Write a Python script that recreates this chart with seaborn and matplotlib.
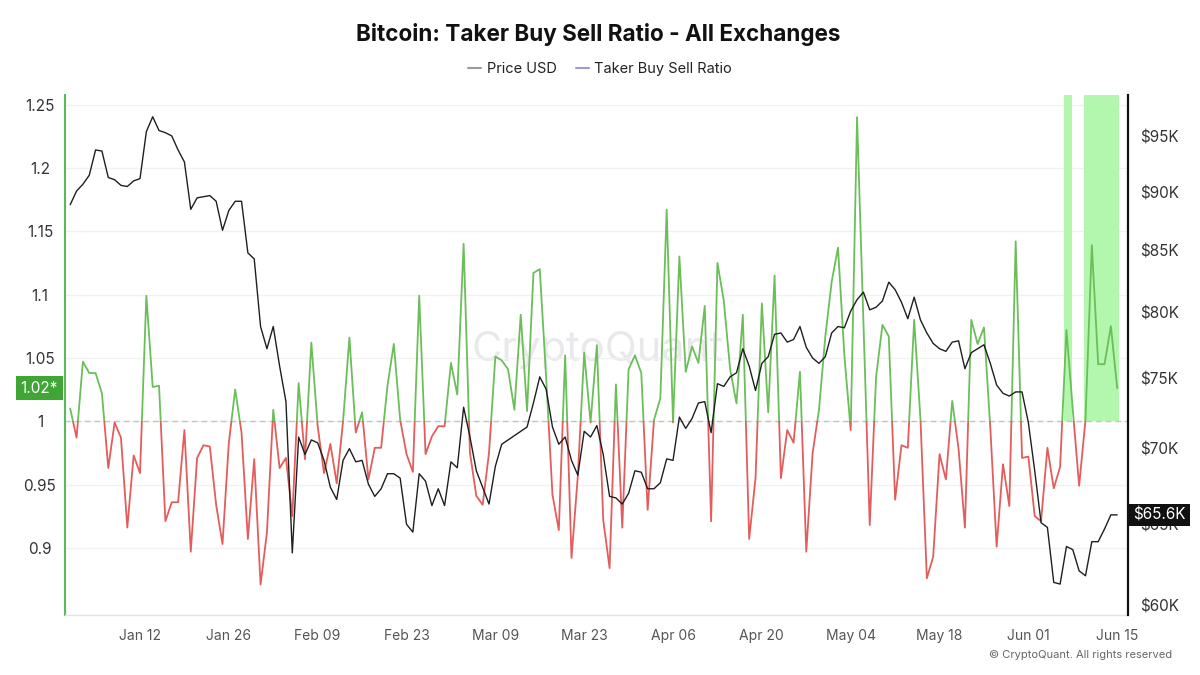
import matplotlib
matplotlib.use('Agg')
import matplotlib.pyplot as plt
import matplotlib.dates as mdates
import matplotlib.transforms as mtransforms
from matplotlib.patches import Rectangle
from matplotlib.lines import Line2D
from matplotlib.ticker import FixedLocator, FuncFormatter, NullLocator
import seaborn as sns
import pandas as pd

# ---------------- data ----------------
start_date = '2026-01-01'

price_k = [
    88.9, 90.1, 90.7, 91.5, 93.8, 93.7, 91.3, 91.1, 90.6, 90.5, 91.0, 91.2,
    95.5, 96.9, 95.6, 95.4, 95.1, 93.8, 92.7, 88.5, 89.5, 89.6, 89.7, 89.2,
    86.7, 88.4, 89.2, 89.2, 84.8, 84.3, 78.9, 77.2, 78.9, 75.9, 73.3, 63.2,
    70.8, 69.6, 70.6, 70.4, 69.2, 67.4, 66.6, 69.2, 70.0, 69.1, 69.2, 67.6,
    66.8, 67.3, 68.3, 68.3, 68.0, 65.0, 64.5, 68.3, 67.8, 66.2, 67.3, 66.2,
    69.1, 68.7, 72.9, 70.8, 68.5, 67.4, 66.3, 68.8, 70.3, 70.6, 70.9, 71.2,
    71.5, 73.2, 75.1, 74.2, 71.5, 70.3, 70.8, 69.2, 68.2, 71.2, 70.8, 71.6,
    69.6, 66.8, 66.7, 66.3, 67.0, 68.5, 68.4, 67.3, 67.3, 67.7, 69.3,
    69.2, 72.2, 71.4, 72.1, 73.2, 73.3, 71.1, 74.6, 74.4, 75.1, 75.4, 77.2,
    75.9, 74.1, 76.1, 76.6, 78.3, 78.4, 77.7, 77.9, 78.9, 77.3, 76.5, 76.1,
    76.6, 78.4, 78.9, 78.8, 80.1, 81.0, 81.6, 80.2, 80.4, 80.9, 82.4, 81.8,
    80.8, 79.5, 81.2, 79.4, 78.4, 77.6, 77.2, 77.0, 77.7, 77.8, 75.7,
    76.9, 77.2, 77.5, 76.1, 74.5, 73.9, 73.7, 74.0, 74.0, 71.8, 68.5, 65.1,
    64.8, 61.4, 61.3, 63.6, 63.4, 62.1, 61.8, 63.9, 63.9, 64.7, 65.6, 65.6,
]

ratio = [
    1.010, 0.987, 1.047, 1.038, 1.038, 1.022, 0.963, 0.999, 0.987, 0.916, 0.973, 0.959,
    1.099, 1.027, 1.028, 0.921, 0.936, 0.936, 0.993, 0.897, 0.971, 0.981, 0.980, 0.934,
    0.903, 0.983, 1.025, 0.991, 0.907, 0.970, 0.871, 0.912, 1.009, 0.963, 0.971, 0.925,
    1.030, 0.970, 1.062, 0.996, 0.959, 0.982, 0.951, 1.000, 1.066, 0.991, 1.007, 0.954,
    0.979, 0.979, 1.028, 1.061, 1.001, 0.974, 0.960, 1.099, 0.974, 0.988, 0.996, 0.996,
    1.046, 1.021, 1.140, 0.975, 0.941, 0.934, 0.975, 1.051, 1.048, 1.041, 1.009, 1.084,
    1.008, 1.117, 1.120, 1.035, 0.942, 0.914, 1.052, 0.892, 0.957, 1.054, 0.999, 1.060,
    0.922, 0.884, 1.029, 0.916, 1.041, 1.052, 1.038, 0.930, 1.001, 1.018, 1.167,
    0.999, 1.130, 1.039, 1.059, 1.046, 1.091, 0.921, 1.125, 1.095, 1.041, 1.014, 1.084,
    0.907, 0.955, 1.093, 1.007, 1.115, 0.955, 0.993, 0.983, 1.039, 0.897, 0.975, 1.009,
    1.067, 1.110, 1.137, 1.052, 0.993, 1.240, 1.080, 0.918, 1.035, 1.076, 1.067, 0.938,
    0.981, 0.979, 1.080, 1.001, 0.876, 0.893, 0.974, 0.954, 1.016, 0.978, 0.916,
    1.080, 1.061, 1.074, 0.995, 0.901, 0.966, 0.933, 1.142, 0.971, 0.972, 0.925, 0.921,
    0.979, 0.947, 0.964, 1.072, 1.009, 0.949, 1.001, 1.139, 1.045, 1.045, 1.075, 1.026,
]

highlight_spans = [('2026-06-06 14:00', '2026-06-07 22:00'),
                   ('2026-06-09 19:00', '2026-06-15 05:00')]

left_ticks = [0.9, 0.95, 1.0, 1.05, 1.1, 1.15, 1.2, 1.25]
left_labels = ['0.9', '0.95', '1', '1.05', '1.1', '1.15', '1.2', '1.25']
right_ticks = [60, 65, 70, 75, 80, 85, 90, 95]
xtick_start, xtick_end = '2026-01-12', '2026-06-15'
last_price_label = '$65.6K'
last_ratio_label = '1.02*'
title = 'Bitcoin: Taker Buy Sell Ratio - All Exchanges'
legend_labels = ['Price USD', 'Taker Buy Sell Ratio']

# ---------------- frame ----------------
dates = pd.date_range(start_date, periods=len(price_k), freq='D')
df = pd.DataFrame({'date': dates, 'price': price_k, 'ratio': ratio})

sns.set_theme(style='white')
plt.rcParams['font.family'] = ['Inter', 'DejaVu Sans']

fig = plt.figure(figsize=(12, 6.75), dpi=100)
ax = fig.add_axes([65 / 1200, 60 / 675, 1063 / 1200, 520 / 675])

GREEN = '#6abf59'
RED = '#e35d5d'

# ratio line, coloured above / below 1 by clipping
sns.lineplot(data=df, x='date', y='ratio', ax=ax, color=GREEN, lw=1.3, zorder=3)
line_g = ax.lines[-1]
sns.lineplot(data=df, x='date', y='ratio', ax=ax, color=RED, lw=1.3, zorder=3)
line_r = ax.lines[-1]

x0 = mdates.date2num(dates[0] - pd.Timedelta(days=0.82))
x1 = mdates.date2num(dates[0] + pd.Timedelta(days=166.7))
ax.set_xlim(x0, x1)
ylo, yhi = 0.847, 1.2575
ax.set_ylim(ylo, yhi)

clip_up = Rectangle((x0 - 10, 1.0), (x1 - x0) + 20, 5, transform=ax.transData)
clip_dn = Rectangle((x0 - 10, -4.0), (x1 - x0) + 20, 5, transform=ax.transData)
line_g.set_clip_path(clip_up)
line_r.set_clip_path(clip_dn)

# highlighted periods
frac = (1.0 - ylo) / (yhi - ylo)
for s, e in highlight_spans:
    ax.axvspan(mdates.date2num(pd.Timestamp(s)), mdates.date2num(pd.Timestamp(e)),
               ymin=frac, ymax=1, color='#b3f7ae', lw=0, zorder=1)

ax.axhline(1.0, color='#c4c4c4', ls=(0, (4, 3)), lw=1, zorder=2)

# grid + ticks left
ax.set_yticks(left_ticks)
ax.set_yticklabels(left_labels)
ax.grid(axis='y', color='#f1f1f1', lw=1)
ax.grid(axis='x', visible=False)
ax.tick_params(axis='y', length=0, pad=18, labelsize=11, labelcolor='#333333')
for lab in ax.get_yticklabels():
    lab.set_horizontalalignment('center')

ax.set_xticks(mdates.date2num(pd.date_range(xtick_start, xtick_end, freq='14D')))
ax.xaxis.set_major_formatter(mdates.DateFormatter('%b %d'))
ax.tick_params(axis='x', length=5, width=0.8, color='#dddddd', pad=5,
               labelsize=10, labelcolor='#555555')
ax.set_xlabel('')
ax.set_ylabel('')

for sp in ['top', 'right']:
    ax.spines[sp].set_visible(False)
ax.spines['left'].set_color('#5cb85c')
ax.spines['left'].set_linewidth(1.5)
ax.spines['bottom'].set_color('#e3e3e3')
ax.spines['bottom'].set_linewidth(1)

# watermark
ax.text(0.501, 0.51, 'CryptoQuant', transform=ax.transAxes, ha='center', va='center',
        fontsize=30, color='#e9e9ec', zorder=0.5)

# price on right log axis
ax2 = ax.twinx()
sns.lineplot(data=df, x='date', y='price', ax=ax2, color='#1f1f1f', lw=1.0, zorder=4)
ax2.set_yscale('log')
ax2.set_ylim(59.47, 98.99)
ax2.set_xlim(x0, x1)
ax2.yaxis.set_major_locator(FixedLocator(right_ticks))
ax2.yaxis.set_minor_locator(NullLocator())
ax2.yaxis.set_major_formatter(FuncFormatter(lambda v, p: f'${v:.0f}K'))
ax2.tick_params(axis='y', length=0, pad=9, labelsize=11, labelcolor='#333333')
ax2.set_ylabel('')
ax2.set_xlabel('')
ax2.grid(False)
for sp in ['top', 'left', 'bottom']:
    ax2.spines[sp].set_visible(False)
ax2.spines['right'].set_color('#111111')
ax2.spines['right'].set_linewidth(1.6)

# value tags
tr_left = mtransforms.blended_transform_factory(ax.transAxes, ax.transData)
ax.text(-0.0240, ratio[-1], last_ratio_label, transform=tr_left, ha='center', va='center',
        fontsize=11, color='white', zorder=10, clip_on=False,
        bbox=dict(boxstyle='square,pad=0.3', fc='#3fa535', ec='none'))
tr_right = mtransforms.blended_transform_factory(ax2.transAxes, ax2.transData)
ax2.text(1.0296, price_k[-1], last_price_label, transform=tr_right, ha='center', va='center',
         fontsize=11, color='white', zorder=10, clip_on=False,
         bbox=dict(boxstyle='square,pad=0.25', fc='#111111', ec='none'))

# title, legend, credit
fig.text(0.4983, 1 - 34 / 675, title, ha='center', va='center', fontsize=16.2,
         fontweight='bold', color='#111111')
handles = [Line2D([], [], color='#9a9a9a', lw=1.5), Line2D([], [], color='#9d99dd', lw=1.5)]
fig.legend(handles, legend_labels, loc='center', bbox_to_anchor=(0.5, 1 - 69 / 675),
           ncol=2, frameon=False, fontsize=10.5, handlelength=0.9, columnspacing=1.3,
           handletextpad=0.4, labelcolor='#222222')
fig.text(1172 / 1200, 1 - 655 / 675, '\u00a9 CryptoQuant. All rights reserved', ha='right',
         va='center', fontsize=8, color='#666666')

fig.savefig('out.png', dpi=100)
